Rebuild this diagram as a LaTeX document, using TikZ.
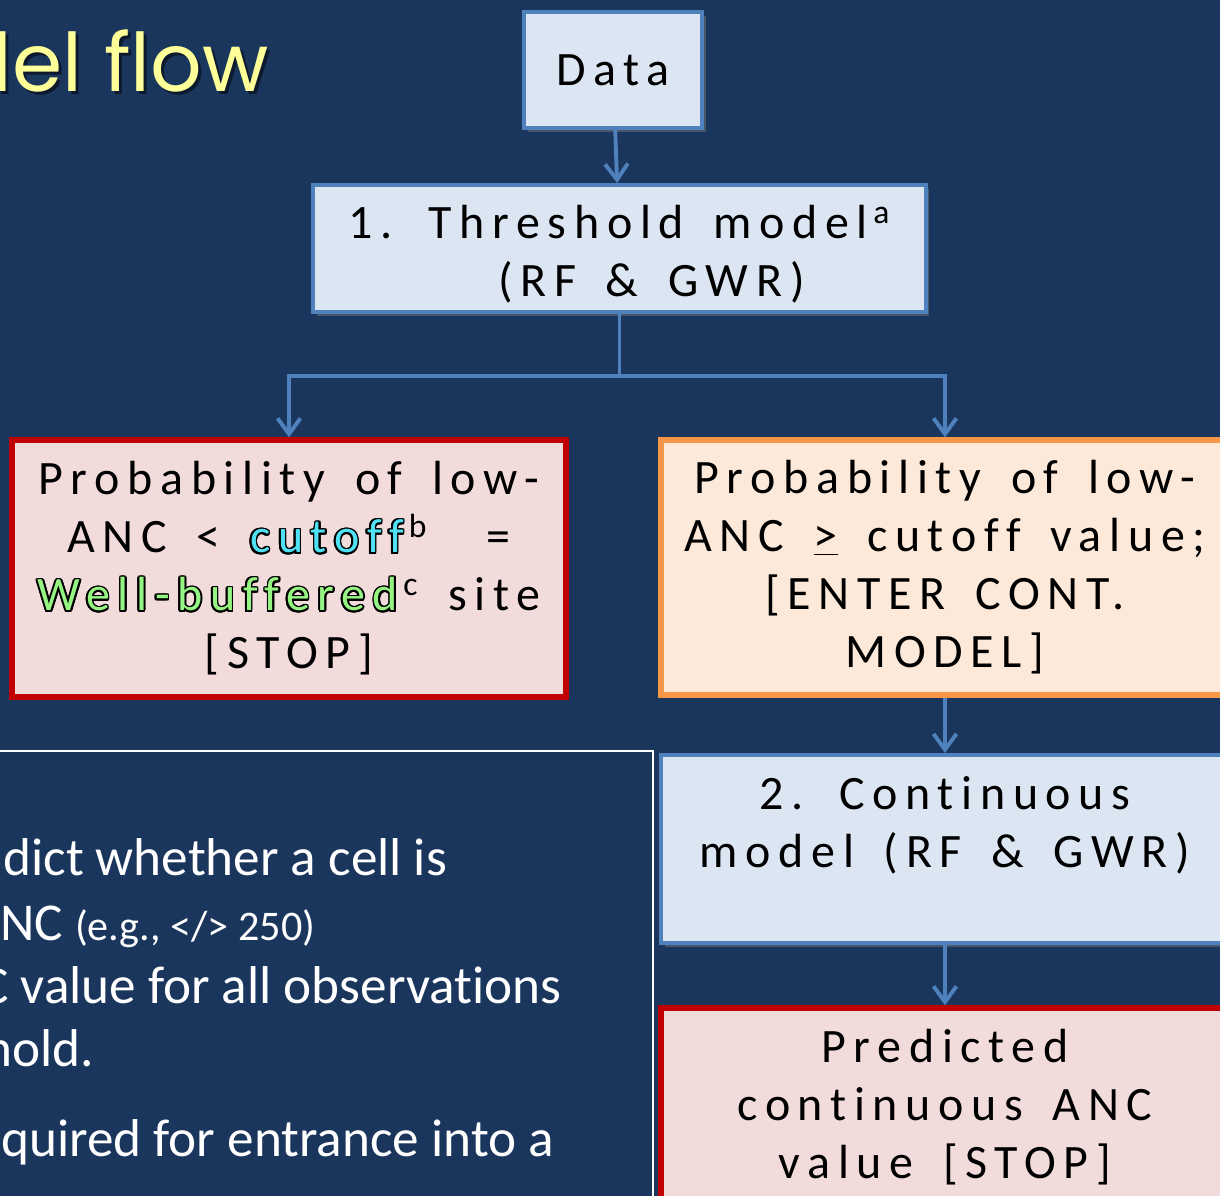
\documentclass[tikz,border=0pt]{standalone}
\usepackage{fontspec}
\setmainfont{Carlito}[Ligatures=NoCommon]
\newfontfamily\boxfont{Carlito}[LetterSpace=16,WordSpace=1.6,Ligatures=NoCommon]
\newfontfamily\titlefont{Poppins}
\usepackage{contour}
\contourlength{0.035em}
\usetikzlibrary{arrows.meta,shadows}
\definecolor{slide}{RGB}{27,54,93}
\definecolor{flowblue}{RGB}{79,129,189}
\definecolor{boxblue}{RGB}{220,230,242}
\definecolor{stopred}{RGB}{192,0,0}
\definecolor{boxpink}{RGB}{242,220,219}
\definecolor{goorange}{RGB}{247,150,70}
\definecolor{boxpeach}{RGB}{253,233,217}
\definecolor{titleyellow}{RGB}{255,255,153}
\definecolor{cutcyan}{RGB}{80,225,245}
\definecolor{wellgreen}{RGB}{150,245,130}
\newcommand{\fnmark}[1]{\kern3pt\textsuperscript{#1}}
\begin{document}
\begin{tikzpicture}[x=0.02cm,y=-0.02cm,
	box/.style={draw=flowblue,fill=boxblue,line width=2.3pt,align=center,inner sep=0pt,
		font=\boxfont\fontsize{27.3}{33}\selectfont,
		drop shadow={shadow xshift=2pt,shadow yshift=-2pt,opacity=0.45}},
	stopbox/.style={box,draw=stopred,fill=boxpink,line width=3pt},
	gobox/.style={box,draw=goorange,fill=boxpeach,line width=3pt},
	flow/.style={draw=flowblue,line width=2.2pt,-{Straight Barb[length=9pt,width=13pt]}},
	note/.style={anchor=base west,inner sep=0pt,text=white,font=\fontsize{30.3}{36}\selectfont}]
	\useasboundingbox (0,0) rectangle (1220,1196);
	\clip (0,0) rectangle (1220,1196);
	\fill [slide] (0,0) rectangle (1220,1196);
	% slide title, cut at the left edge
	\node [anchor=base east,inner sep=0pt,text=black,text opacity=0.5,font=\titlefont\fontsize{46}{50}\selectfont] at (272,95) (titleshadow) {Model flow};
	\node [anchor=base east,inner sep=0pt,text=titleyellow,font=\titlefont\fontsize{46}{50}\selectfont] at (269,92) (title) {Model flow};
	% flow boxes
	\node [box,minimum width=3.56cm,minimum height=2.32cm] at (613,70) (data) {Data};
	\node [box,minimum width=12.26cm,minimum height=2.54cm] at (619.5,248.5) (thresh) {\rule{0pt}{0.95em}1. Threshold model\fnmark{a}\\\hspace*{1.28cm}(RF \& GWR)};
	\node [stopbox,minimum width=11.08cm,minimum height=5.14cm] at (289,568.5) (low) {Probability of low-\\ANC < \contour{black}{\textcolor{cutcyan}{cutoff}}\fnmark{b}\ \ =\\\contour{black}{\textcolor{wellgreen}{Well-buffered}}\fnmark{c} site\\{[STOP]}};
	\node [gobox,minimum width=11.36cm,minimum height=5.1cm] at (945,567.5) (high) {Probability of low-\\ANC \underline{>} cutoff value;\\{[ENTER CONT.}\\MODEL]};
	\node [box,minimum width=11.36cm,minimum height=3.76cm] at (945,849) (cont) {2. Continuous\\model (RF \& GWR)\\[-12.5pt]\strut};
	\node [stopbox,minimum width=11.36cm,minimum height=3.96cm] at (945,1107) (pred) {Predicted\\continuous ANC\\value [STOP]};
	% connectors
	\coordinate (fork) at (619.5,376);
	\draw [flow] (data) -- (thresh);
	\draw [flow] (thresh.south) -- (fork) -| (low.north);
	\draw [flow] (fork) -| (high.north);
	\draw [flow] (high) -- (cont);
	\draw [flow] (cont) -- (pred);
	% notes panel
	\draw [white,line width=0.9pt] (-10,751) rectangle (653,1210);
	\node [note] at (3,875) (n1) {dict whether a cell is};
	\node [note] at (0,940) (n2) {NC {\fontsize{24}{28}\selectfont (e.g., </> 250)}};
	\node [note] at (-20,1003) (n3) {C value for all observations};
	\node [note] at (-16,1066) (n4) {hold.};
	\node [note] at (1,1156) (n5) {quired for entrance into a};
\end{tikzpicture}
\end{document}
